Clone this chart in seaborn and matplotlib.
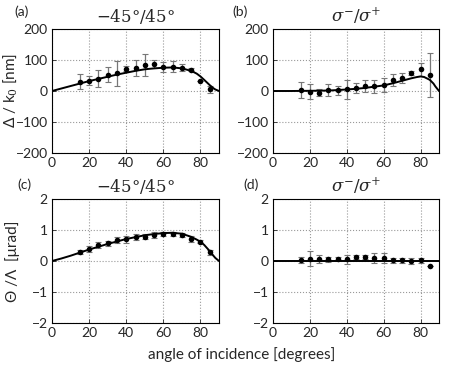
import numpy as np
import pandas as pd
import matplotlib
matplotlib.use("Agg")
import matplotlib.pyplot as plt
import seaborn as sns

# ==============================
# data
# ==============================
angles = [15, 20, 25, 30, 35, 40, 45, 50, 55, 60, 65, 70, 75, 80, 85]

a_vals = [30, 33, 40, 53, 57, 72, 75, 85, 87, 78, 78, 75, 68, 32, 5]
a_errs = [25, 15, 28, 25, 40, 8, 25, 35, 12, 17, 18, 12, 5, 0, 12]
b_vals = [3, -2, -5, 3, 2, 5, 10, 17, 15, 20, 35, 42, 58, 70, 52]
b_errs = [25, 25, 10, 20, 15, 30, 15, 20, 20, 22, 20, 17, 5, 20, 70]
c_vals = [0.30, 0.38, 0.52, 0.57, 0.67, 0.70, 0.78, 0.78, 0.83, 0.88, 0.87, 0.83, 0.72, 0.62, 0.28]
c_errs = [0.07, 0.10, 0.10, 0.07, 0.10, 0.12, 0.10, 0.08, 0.10, 0.07, 0.05, 0.07, 0.10, 0.05, 0.08]
d_vals = [0.03, 0.08, 0.07, 0.05, 0.08, 0.05, 0.12, 0.13, 0.10, 0.10, 0.03, 0.03, -0.01, 0.02, -0.15]
d_errs = [0.10, 0.25, 0.12, 0.08, 0.05, 0.15, 0.06, 0.06, 0.15, 0.15, 0.08, 0.08, 0.10, 0.08, 0.0]

theory_x = [0, 5, 10, 15, 20, 25, 30, 35, 40, 45, 50, 55, 60, 65, 70, 75, 78, 80, 82, 85, 87, 88, 90]
a_theory = [0, 8, 16, 24, 32, 39, 46, 53, 59, 65, 70, 73, 75, 76, 73, 65, 56, 47, 36, 19, 9, 5, 0]
b_theory = [0, 0, 0, 0.3, 0.6, 1, 1.5, 3, 5, 7, 10, 14, 18, 25, 33, 41, 45, 47, 45, 36, 24, 15, 0]
c_theory = [0, 0.08, 0.17, 0.27, 0.37, 0.46, 0.55, 0.63, 0.71, 0.77, 0.83, 0.87, 0.90, 0.91, 0.88, 0.78, 0.69, 0.62, 0.52, 0.32, 0.17, 0.10, 0]
d_theory = [0] * len(theory_x)

titles = ["$-45°/45°$", r"$\sigma^{-}/\sigma^{+}$", "$-45°/45°$", r"$\sigma^{-}/\sigma^{+}$"]
letters = ["(a)", "(b)", "(c)", "(d)"]

# ==============================
# style
# ==============================
sns.set_style("ticks")
plt.rcParams["font.family"] = ["Lato", "DejaVu Sans"]
plt.rcParams["mathtext.fontset"] = "dejavuserif"

fig = plt.figure(figsize=(4.53, 3.66), dpi=100)
W, H = 453, 366
boxes = [(52, 29, 219, 153), (273, 29, 439, 153), (52, 199, 219, 323), (273, 199, 439, 323)]
axes = [fig.add_axes([l / W, 1 - b / H, (r - l) / W, (b - t) / H]) for (l, t, r, b) in boxes]

panels = [
    (a_vals, a_errs, a_theory, (-200, 200), [-200, -100, 0, 100, 200]),
    (b_vals, b_errs, b_theory, (-200, 200), [-200, -100, 0, 100, 200]),
    (c_vals, c_errs, c_theory, (-2, 2), [-2, -1, 0, 1, 2]),
    (d_vals, d_errs, d_theory, (-2, 2), [-2, -1, 0, 1, 2]),
]

for i, (ax, (vals, errs, theory, ylim, yticks)) in enumerate(zip(axes, panels)):
    ax.errorbar(angles, vals, yerr=errs, fmt="none", ecolor="#777777",
                elinewidth=0.9, capsize=2, capthick=0.8, zorder=2)
    sns.scatterplot(x=angles, y=vals, ax=ax, color="black", s=16,
                    edgecolor="black", linewidth=0, zorder=3)
    sns.lineplot(x=theory_x, y=theory, ax=ax, color="black", lw=1.4, zorder=4)
    ax.set_xlim(0, 90)
    ax.set_ylim(*ylim)
    ax.set_xticks([0, 20, 40, 60, 80])
    ax.set_yticks(yticks)
    ax.set_yticklabels([str(t).replace("-", "\u2212") for t in yticks])
    ax.grid(True, linestyle=":", color="#999999", linewidth=0.8)
    ax.tick_params(direction="in", length=3, width=0.6, labelsize=10, pad=3)
    for s in ax.spines.values():
        s.set_visible(True)
        s.set_linewidth(0.8)
        s.set_color("black")
    ax.set_title(titles[i], fontsize=12, pad=5)

axes[0].set_ylabel("Δ / k$_0$ [nm]", fontsize=11)
axes[0].yaxis.set_label_coords(-0.20, 0.5)
axes[2].set_ylabel("Θ /Λ  [μrad]", fontsize=11)
axes[2].yaxis.set_label_coords(-0.19, 0.5)

fig.text(14 / W, 1 - 12 / H, letters[0], fontsize=10, va="center", ha="left")
fig.text(232 / W, 1 - 12 / H, letters[1], fontsize=10, va="center", ha="left")
fig.text(17 / W, 1 - 185 / H, letters[2], fontsize=10, va="center", ha="left")
fig.text(243 / W, 1 - 185 / H, letters[3], fontsize=10, va="center", ha="left")
fig.text(242 / W, 1 - 355 / H, "angle of incidence [degrees]", fontsize=11,
         ha="center", va="center")

fig.savefig("out.png", dpi=100)
plt.close(fig)
